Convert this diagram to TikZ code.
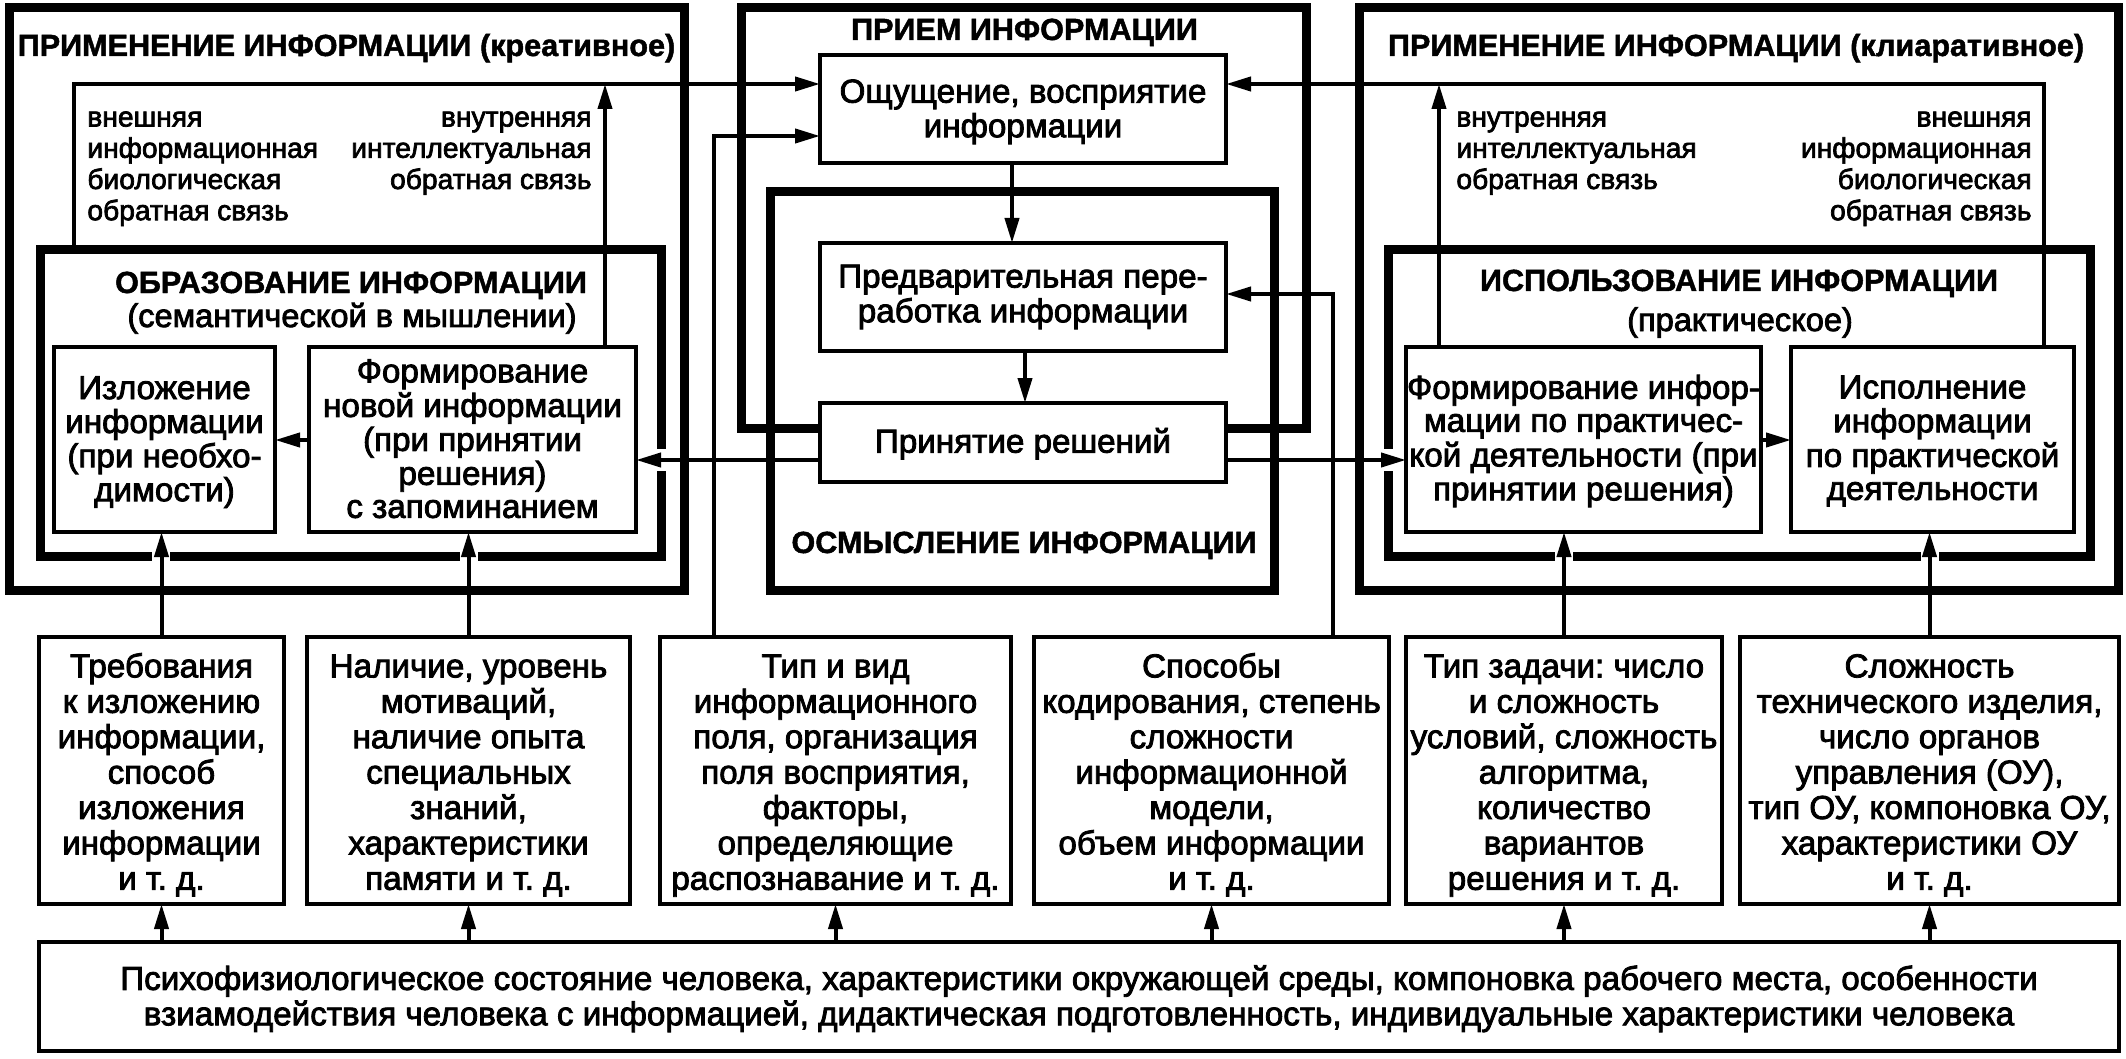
\documentclass[tikz,border=0pt]{standalone}
\usepackage{fontspec}
\setmainfont{Liberation Sans}[UprightFeatures={FakeBold=2.5},BoldFeatures={FakeBold=1.5}]
\usetikzlibrary{arrows.meta}
\frenchspacing
\newcommand\tb[2][0pt]{\raisebox{-#1}[\height][\depth]{\begin{tabular}{@{}c@{}}#2\end{tabular}}}
\begin{document}
\begin{tikzpicture}[x=0.5pt,y=-0.5pt,
  bw/.style={minimum width=#1*0.5pt},
  bh/.style={minimum height=#1*0.5pt},
  thk/.style={draw,line width=4.5pt,inner sep=0pt,outer sep=0pt},
  bx/.style={draw,line width=2pt,fill=white,inner sep=0pt,outer sep=0pt,
    font=\fontsize{16.6pt}{16.5pt}\selectfont},
  bxa/.style={bx,font=\fontsize{16.6pt}{17.3pt}\selectfont},
  fb/.style={bx,font=\fontsize{16.6pt}{17.7pt}\selectfont},
  arr/.style={line width=2pt,-{Triangle[length=12.5pt,width=7pt]}},
  ttl/.style={inner sep=0pt,anchor=base,font=\fontsize{15.3pt}{18pt}\selectfont\bfseries},
  sub/.style={inner sep=0pt,anchor=base,font=\fontsize{16.3pt}{18pt}\selectfont},
  lbl/.style={inner sep=0pt,font=\fontsize{14.1pt}{15.6pt}\selectfont,
    execute at begin node=\strut},
  gap/.style={fill=white}]
\useasboundingbox (0,0) rectangle (2126,1059);
\fill[white] (0,0) rectangle (2126,1059);

% thick frames
\node[thk,bw=675,bh=582] (lout) at (346.5,299) {};
\node[thk,bw=759,bh=582] (rout) at (1738.5,299) {};
\node[thk,bw=565,bh=420] (priem) at (1023.5,218) {};
\node[thk,bw=504,bh=398] (osm) at (1022,391) {};
\node[thk,bw=621,bh=306] (obr) at (350.5,403) {};
\node[thk,bw=702,bh=306] (ispz) at (1739,403) {};

% gaps in thick frames where arrows enter
\fill[gap] (152,546) rectangle (170,566);
\fill[gap] (460,546) rectangle (478,566);
\fill[gap] (1555,546) rectangle (1573,566);
\fill[gap] (1921,546) rectangle (1939,566);
\fill[gap] (652,449) rectangle (670,471);
\fill[gap] (1379,449) rectangle (1397,471);

% inner boxes
\node[bx,bw=221,bh=185] (izl) at (164.5,439.5) {\tb[2pt]{Изложение\\информации\\(при необхо-\\димости)}};
\node[bx,bw=327,bh=185] (form) at (472.5,439.5) {\tb[2pt]{Формирование\\новой информации\\(при принятии\\решения)\\с запоминанием}};
\node[bx,bw=355,bh=185] (fpr) at (1583.5,439.5) {\tb[1.5pt]{Формирование инфор-\\мации по практичес-\\кой деятельности (при\\принятии решения)}};
\node[bx,bw=283,bh=185] (ispl) at (1932.5,439.5) {\tb[1.5pt]{Исполнение\\информации\\по практической\\деятельности}};
\node[bxa,bw=406,bh=108] (osh) at (1023,109) {\tb[2pt]{Ощущение, восприятие\\информации}};
\node[bxa,bw=406,bh=108] (pred) at (1023,297) {\tb[0.5pt]{Предварительная пере-\\работка информации}};
\node[bxa,bw=406,bh=79] (prin) at (1023,442.5) {\tb[1.5pt]{Принятие решений}};

% factor boxes
\node[fb,bw=245,bh=267] (treb) at (161.5,770.5) {\tb[3pt]{Требования\\к изложению\\информации,\\способ\\изложения\\информации\\и т. д.}};
\node[fb,bw=323,bh=267] (nal) at (468.5,770.5) {\tb[3pt]{Наличие, уровень\\мотиваций,\\наличие опыта\\специальных\\знаний,\\характеристики\\памяти и т. д.}};
\node[fb,bw=351,bh=267] (tipvid) at (835.5,770.5) {\tb[3pt]{Тип и вид\\информационного\\поля, организация\\поля восприятия,\\факторы,\\определяющие\\распознавание и т. д.}};
\node[fb,bw=355,bh=267] (spos) at (1211.5,770.5) {\tb[3pt]{Способы\\кодирования, степень\\сложности\\информационной\\модели,\\объем информации\\и т. д.}};
\node[fb,bw=316,bh=267] (tz) at (1564,770.5) {\tb[3pt]{Тип задачи: число\\и сложность\\условий, сложность\\алгоритма,\\количество\\вариантов\\решения и т. д.}};
\node[fb,bw=379,bh=267] (slozh) at (1929.5,770.5) {\tb[3pt]{Сложность\\технического изделия,\\число органов\\управления (ОУ),\\тип ОУ, компоновка ОУ,\\характеристики ОУ\\и т. д.}};
\node[fb,bw=2080,bh=109] (bot) at (1079,996.5) {\tb[2pt]{Психофизиологическое состояние человека, характеристики окружающей среды, компоновка рабочего места, особенности\\взиамодействия человека с информацией, дидактическая подготовленность, индивидуальные характеристики человека}};

% helper coordinates
\coordinate (ltop) at (74,84);
\coordinate (lup) at (605,84);
\coordinate (rtop) at (2044,84);
\coordinate (rup) at (1439,84);
\coordinate (tv) at (714,136);
\coordinate (sp) at (1333,294);
\coordinate (a1) at (1012,0);
\coordinate (a2) at (1025,0);
\coordinate (yp) at (0,460);
\coordinate (yf) at (0,440);

% feedback loops
\draw[arr] (obr.north -| ltop) -- (ltop) -- (ltop -| osh.west);
\draw[arr] (form.north -| lup) -- (lup);
\draw[arr] (ispl.north -| rtop) -- (rtop) -- (rtop -| osh.east);
\draw[arr] (fpr.north -| rup) -- (rup);

% central chain
\draw[arr] (osh.south -| a1) -- (pred.north -| a1);
\draw[arr] (pred.south -| a2) -- (prin.north -| a2);
\draw[arr] (prin.west |- yp) -- (form.east |- yp);
\draw[arr] (prin.east |- yp) -- (fpr.west |- yp);
\draw[arr] (form.west |- yf) -- (izl.east |- yf);
\draw[arr] (fpr.east |- yf) -- (ispl.west |- yf);

% factor inputs
\draw[arr] (tipvid.north -| tv) -- (tv) -- (tv -| osh.west);
\draw[arr] (spos.north -| sp) -- (sp) -- (sp -| pred.east);
\draw[arr] (treb.north) -- (treb.north |- izl.south);
\draw[arr] (nal.north) -- (nal.north |- form.south);
\draw[arr] (tz.north) -- (tz.north |- fpr.south);
\draw[arr] (slozh.north) -- (slozh.north |- ispl.south);
\foreach \b in {treb,nal,tipvid,spos,tz,slozh}
  \draw[arr] (bot.north -| \b.south) -- (\b.south);

% titles
\node[ttl] (t1) at (346.5,56) {ПРИМЕНЕНИЕ ИНФОРМАЦИИ (креативное)};
\node[ttl] (t2) at (1736,56) {ПРИМЕНЕНИЕ ИНФОРМАЦИИ (клиаративное)};
\node[ttl] (t3) at (1024.5,40) {ПРИЕМ ИНФОРМАЦИИ};
\node[ttl] (t4) at (1024,553) {ОСМЫСЛЕНИЕ ИНФОРМАЦИИ};
\node[ttl] (t5) at (351,293) {ОБРАЗОВАНИЕ ИНФОРМАЦИИ};
\node[sub] (t6) at (352,327) {(семантической в мышлении)};
\node[ttl] (t7) at (1739,291) {ИСПОЛЬЗОВАНИЕ ИНФОРМАЦИИ};
\node[sub] (t8) at (1740,331) {(практическое)};

% feedback labels
\node[lbl,anchor=north west,align=left] (l1) at (87,111) {внешняя\\информационная\\биологическая\\обратная связь};
\node[lbl,anchor=north east,align=right] (l2) at (592,111) {внутренняя\\интеллектуальная\\обратная связь};
\node[lbl,anchor=north west,align=left] (l3) at (1456,111) {внутренняя\\интеллектуальная\\обратная связь};
\node[lbl,anchor=north east,align=right] (l4) at (2032,111) {внешняя\\информационная\\биологическая\\обратная связь};
\end{tikzpicture}
\end{document}
